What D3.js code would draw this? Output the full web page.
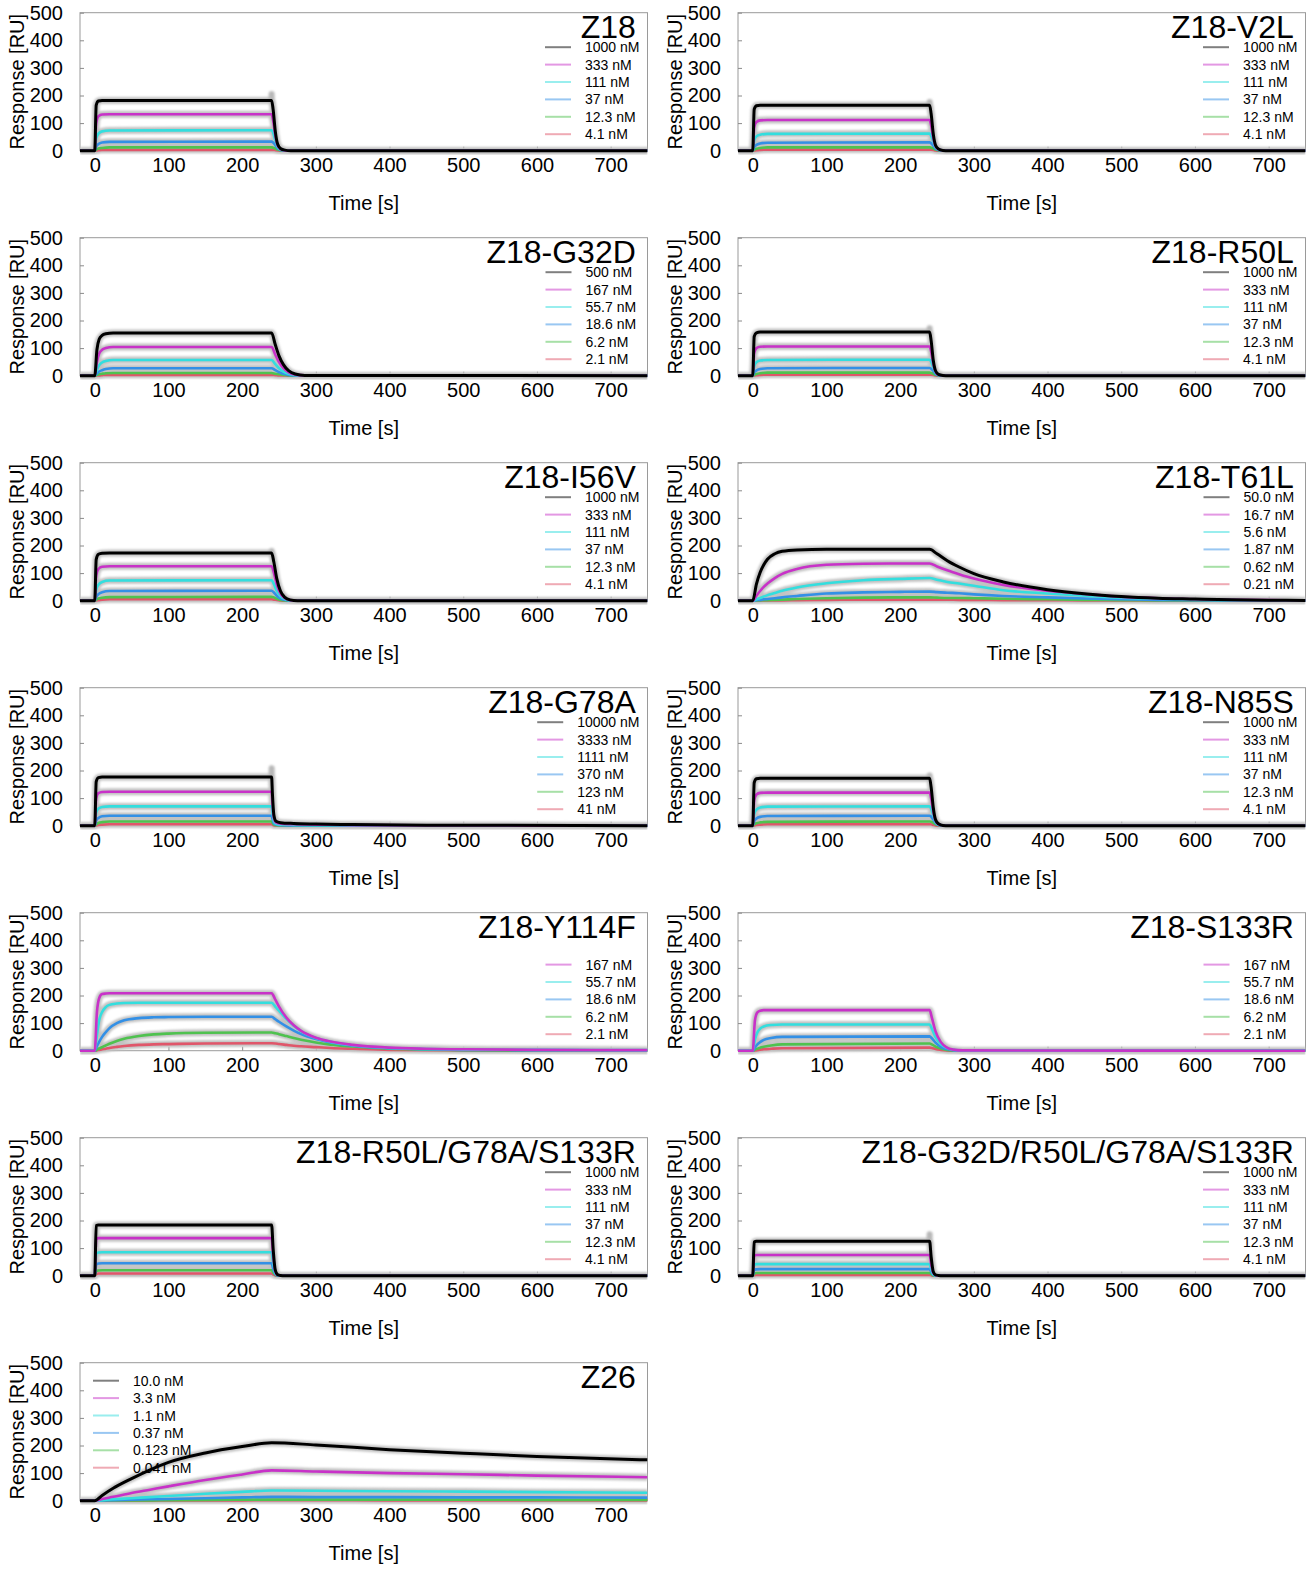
<!DOCTYPE html>
<html>
<head>
<meta charset="utf-8">
<script src="https://cdn.jsdelivr.net/npm/d3@7"></script>
<style>
  body { margin: 0; background: #ffffff; }
  svg { display: block; }
  text { font-family: "Liberation Sans", Arial, Helvetica, sans-serif; fill: #000; }
</style>
</head>
<body>
<svg id="chart" width="1312" height="1570"></svg>
<script>
// ---------- axis ticks ----------
const timeTicks = [0, 100, 200, 300, 400, 500, 600, 700];
const responseTicks = [0, 100, 200, 300, 400, 500];
const timeDomain = [-20, 750];
const responseDomain = [0, 500];

// fitted curve colours, highest concentration first
const seriesColors = ["#000000", "#c832c8", "#33dede", "#3390e6", "#4fc24f", "#e0566a"];

// ---------- concentration labels ----------
const concStd = ["1000 nM", "333 nM", "111 nM", "37 nM", "12.3 nM", "4.1 nM"];
const concG32D = ["500 nM", "167 nM", "55.7 nM", "18.6 nM", "6.2 nM", "2.1 nM"];
const concT61L = ["50.0 nM", "16.7 nM", "5.6 nM", "1.87 nM", "0.62 nM", "0.21 nM"];
const concG78A = ["10000 nM", "3333 nM", "1111 nM", "370 nM", "123 nM", "41 nM"];
const concFive = [null, "167 nM", "55.7 nM", "18.6 nM", "6.2 nM", "2.1 nM"];
const concZ26 = ["10.0 nM", "3.3 nM", "1.1 nM", "0.37 nM", "0.123 nM", "0.041 nM"];

// ---------- sampled sensorgrams: times [s] and responses [RU] ----------
const timesFast = [-20, 0, 2, 5, 10, 20, 240, 242, 245, 248, 252, 258, 266, 750];

const z18Resp = [
  [0, 0, 165, 180, 182, 182, 182, 150, 70, 25, 8, 2, 0, 0],
  [0, 0, 100, 125, 131, 132, 132, 110, 55, 20, 6, 1, 0, 0],
  [0, 0, 45, 62, 70, 73, 74, 65, 38, 15, 5, 1, 0, 0],
  [0, 0, 15, 24, 30, 32, 33, 30, 20, 9, 3, 1, 0, 0],
  [0, 0, 4, 8, 10, 12, 12, 11, 8, 4, 1, 0, 0, 0],
  [0, 0, 1, 2, 3, 3, 3, 3, 2, 1, 0, 0, 0, 0]
];
const v2lResp = [
  [0, 0, 150, 163, 165, 165, 165, 135, 60, 20, 6, 1, 0, 0],
  [0, 0, 85, 104, 110, 111, 111, 92, 45, 16, 5, 1, 0, 0],
  [0, 0, 38, 52, 58, 61, 62, 54, 32, 12, 4, 1, 0, 0],
  [0, 0, 13, 21, 26, 29, 30, 27, 18, 8, 3, 1, 0, 0],
  [0, 0, 4, 7, 10, 12, 12, 11, 8, 4, 1, 0, 0, 0],
  [0, 0, 1, 2, 3, 4, 4, 4, 3, 1, 0, 0, 0, 0]
];
const r50lResp = [
  [0, 0, 142, 155, 158, 158, 158, 128, 55, 18, 5, 1, 0, 0],
  [0, 0, 82, 100, 105, 106, 106, 88, 42, 15, 4, 1, 0, 0],
  [0, 0, 35, 49, 55, 57, 58, 51, 30, 12, 4, 1, 0, 0],
  [0, 0, 12, 19, 24, 27, 28, 25, 17, 7, 2, 0, 0, 0],
  [0, 0, 3, 6, 9, 11, 11, 10, 7, 3, 1, 0, 0, 0],
  [0, 0, 1, 2, 3, 4, 4, 4, 3, 1, 0, 0, 0, 0]
];
const n85sResp = [
  [0, 0, 156, 170, 172, 172, 172, 140, 65, 22, 7, 1, 0, 0],
  [0, 0, 92, 113, 119, 120, 120, 100, 50, 18, 5, 1, 0, 0],
  [0, 0, 42, 58, 66, 69, 70, 62, 36, 14, 4, 1, 0, 0],
  [0, 0, 16, 26, 32, 35, 36, 33, 22, 10, 3, 1, 0, 0],
  [0, 0, 5, 9, 12, 14, 15, 14, 10, 5, 2, 0, 0, 0],
  [0, 0, 1, 3, 4, 5, 5, 5, 3, 1, 0, 0, 0, 0]
];
const tripleResp = [
  [0, 0, 182, 184, 184, 184, 184, 100, 20, 4, 1, 0, 0, 0],
  [0, 0, 132, 136, 136, 136, 136, 75, 15, 3, 1, 0, 0, 0],
  [0, 0, 80, 84, 85, 85, 85, 48, 10, 2, 0, 0, 0, 0],
  [0, 0, 40, 44, 45, 45, 45, 26, 6, 1, 0, 0, 0, 0],
  [0, 0, 17, 19, 20, 20, 20, 12, 3, 1, 0, 0, 0, 0],
  [0, 0, 6, 8, 8, 8, 8, 5, 1, 0, 0, 0, 0, 0]
];
const quadResp = [
  [0, 0, 122, 125, 125, 125, 125, 70, 14, 3, 1, 0, 0, 0],
  [0, 0, 72, 75, 75, 75, 75, 42, 9, 2, 0, 0, 0, 0],
  [0, 0, 39, 42, 42, 42, 42, 24, 5, 1, 0, 0, 0, 0],
  [0, 0, 21, 23, 24, 24, 24, 14, 3, 1, 0, 0, 0, 0],
  [0, 0, 8, 10, 10, 10, 10, 6, 1, 0, 0, 0, 0, 0],
  [0, 0, 2, 3, 3, 3, 3, 2, 0, 0, 0, 0, 0, 0]
];

const timesI56V = [-20, 0, 2, 5, 10, 20, 240, 243, 247, 252, 258, 265, 275, 750];
const i56vResp = [
  [0, 0, 150, 168, 172, 173, 173, 140, 80, 35, 12, 3, 0, 0],
  [0, 0, 90, 115, 123, 125, 125, 102, 58, 26, 9, 2, 0, 0],
  [0, 0, 40, 58, 68, 73, 74, 61, 35, 16, 6, 1, 0, 0],
  [0, 0, 14, 24, 31, 35, 36, 30, 18, 8, 3, 1, 0, 0],
  [0, 0, 4, 8, 11, 13, 14, 12, 7, 3, 1, 0, 0, 0],
  [0, 0, 1, 2, 4, 5, 5, 4, 3, 1, 0, 0, 0, 0]
];

const timesG32D = [-20, 0, 3, 6, 10, 15, 25, 240, 245, 250, 256, 263, 272, 285, 750];
const g32dResp = [
  [0, 0, 95, 132, 146, 152, 155, 155, 112, 72, 40, 18, 6, 1, 0],
  [0, 0, 50, 80, 94, 100, 104, 104, 76, 49, 27, 12, 4, 1, 0],
  [0, 0, 22, 38, 48, 53, 57, 57, 42, 27, 15, 7, 2, 0, 0],
  [0, 0, 8, 15, 20, 24, 27, 27, 20, 13, 7, 3, 1, 0, 0],
  [0, 0, 3, 5, 7, 9, 10, 10, 7, 5, 3, 1, 0, 0, 0],
  [0, 0, 1, 1, 2, 3, 3, 3, 2, 1, 1, 0, 0, 0, 0]
];

const timesG78A = [-20, 0, 2, 5, 10, 20, 240, 241, 243, 246, 252, 270, 300, 350, 450, 750];
const g78aResp = [
  [0, 0, 160, 174, 176, 176, 176, 120, 40, 16, 11, 8, 6, 4, 2, 0],
  [0, 0, 100, 118, 122, 123, 123, 85, 28, 11, 7, 5, 4, 2, 1, 0],
  [0, 0, 48, 62, 68, 70, 70, 50, 17, 7, 4, 3, 2, 1, 0, 0],
  [0, 0, 18, 28, 34, 36, 36, 26, 9, 4, 2, 1, 1, 0, 0, 0],
  [0, 0, 5, 10, 13, 15, 15, 11, 4, 2, 1, 0, 0, 0, 0, 0],
  [0, 0, 1, 3, 4, 5, 5, 4, 1, 1, 0, 0, 0, 0, 0, 0]
];

const timesS133R = [-20, 0, 3, 6, 10, 15, 25, 40, 240, 243, 248, 255, 263, 272, 285, 750];
const s133rResp = [
  null,
  [0, 0, 110, 138, 145, 147, 147, 147, 147, 120, 70, 32, 12, 4, 1, 0],
  [0, 0, 40, 65, 80, 88, 93, 95, 95, 80, 49, 24, 10, 3, 1, 0],
  [0, 0, 12, 22, 31, 39, 46, 50, 52, 45, 29, 14, 6, 2, 0, 0],
  [0, 0, 4, 7, 11, 14, 19, 23, 26, 23, 15, 8, 3, 1, 0, 0],
  [0, 0, 1, 2, 4, 5, 7, 9, 11, 10, 6, 3, 1, 0, 0, 0]
];

const timesT61L = [-20, 0, 5, 10, 15, 20, 30, 40, 60, 100, 150, 200, 240, 250, 264, 280, 300, 340, 400, 450, 500, 550, 600, 650, 700, 750];
const t61lResp = [
  [0, 0, 60, 102, 130, 150, 170, 179, 184, 186, 186, 186, 186, 170, 145, 122, 98, 68, 40, 25, 15, 9, 6, 3, 2, 1],
  [0, 0, 18, 35, 50, 62, 82, 97, 115, 130, 134, 135, 135, 124, 110, 96, 80, 57, 36, 24, 14, 9, 5, 3, 2, 1],
  [0, 0, 5, 10, 15, 20, 28, 36, 48, 63, 74, 79, 82, 76, 68, 62, 54, 38, 26, 18, 11, 7, 4, 2, 1, 1],
  [0, 0, 2, 3, 5, 6, 9, 12, 17, 26, 30, 32, 33, 31, 29, 27, 23, 17, 12, 8, 5, 3, 2, 1, 1, 0],
  [0, 0, 1, 1, 2, 2, 3, 4, 6, 9, 11, 12, 12, 11, 10, 10, 9, 7, 5, 3, 2, 1, 1, 0, 0, 0],
  [0, 0, 0, 0, 1, 1, 1, 1, 2, 3, 4, 4, 4, 4, 4, 3, 3, 2, 2, 1, 1, 0, 0, 0, 0, 0]
];

const timesY114F = [-20, 0, 3, 6, 10, 15, 20, 30, 40, 60, 80, 100, 150, 240, 245, 250, 260, 270, 280, 300, 320, 350, 400, 450, 500, 600, 750];
const y114fResp = [
  null,
  [0, 0, 140, 190, 205, 207, 208, 208, 208, 208, 208, 208, 208, 208, 185, 160, 120, 92, 72, 47, 33, 21, 11, 7, 5, 3, 2],
  [0, 0, 55, 110, 140, 158, 166, 171, 173, 174, 174, 174, 174, 174, 160, 145, 115, 90, 70, 46, 32, 20, 10, 6, 4, 3, 2],
  [0, 0, 16, 32, 50, 67, 82, 100, 110, 118, 121, 122, 123, 123, 114, 105, 88, 73, 60, 42, 30, 18, 9, 5, 3, 2, 1],
  [0, 0, 4, 8, 13, 19, 25, 35, 43, 53, 59, 62, 65, 66, 63, 60, 53, 46, 40, 30, 22, 15, 7, 4, 2, 1, 0],
  [0, 0, 1, 3, 5, 7, 10, 14, 17, 21, 23, 24, 26, 27, 26, 24, 21, 18, 16, 13, 10, 7, 3, 2, 1, 0, 0]
];

const timesZ26 = [-20, 0, 10, 25, 50, 75, 100, 150, 200, 240, 300, 400, 500, 600, 750];
const z26Resp = [
  [0, 0, 19, 45, 80, 112, 139, 173, 196, 210, 202, 185, 172, 160, 148],
  [0, 0, 6, 14, 28, 40, 52, 75, 95, 110, 106, 100, 96, 91, 85],
  [0, 0, 2, 5, 9, 13, 17, 25, 32, 37, 36, 34, 33, 31, 29],
  [0, 0, 1, 2, 4, 5, 6, 9, 12, 14, 13, 13, 12, 12, 11],
  [0, 0, 0, 1, 1, 1, 2, 3, 4, 4, 4, 4, 4, 3, 3],
  [0, 0, 0, 0, 0, 0, 1, 1, 1, 2, 2, 1, 1, 1, 1]
];

// ---------- panels (reading order) ----------
const panelNames = ["Z18", "Z18-V2L", "Z18-G32D", "Z18-R50L", "Z18-I56V", "Z18-T61L",
  "Z18-G78A", "Z18-N85S", "Z18-Y114F", "Z18-S133R", "Z18-R50L/G78A/S133R",
  "Z18-G32D/R50L/G78A/S133R", "Z26"];
const panelTimes = [timesFast, timesFast, timesG32D, timesFast, timesI56V, timesT61L,
  timesG78A, timesFast, timesY114F, timesS133R, timesFast, timesFast, timesZ26];
const panelResponses = [z18Resp, v2lResp, g32dResp, r50lResp, i56vResp, t61lResp,
  g78aResp, n85sResp, y114fResp, s133rResp, tripleResp, quadResp, z26Resp];
const panelConcs = [concStd, concStd, concG32D, concStd, concStd, concT61L,
  concG78A, concStd, concFive, concFive, concStd, concStd, concZ26];
// raw-data injection spike at the end of association (RU), null where absent
const injectionSpikes = [205, 176, null, 172, 180, null, 208, 182, null, null, null, 150, null];

// ---------- layout ----------
const colLeft = [80, 738];
const plotW = 567.5;
const rowTop0 = 12.7;
const rowStep = 225;
const plotH = 138;

const svg = d3.select("#chart");
const defs = svg.append("defs");
defs.append("filter").attr("id", "soft")
  .attr("x", "-5%").attr("y", "-20%").attr("width", "110%").attr("height", "140%")
  .append("feGaussianBlur").attr("stdDeviation", 0.9);

// text measuring helper for legend placement
const measurer = svg.append("text").attr("font-size", 14).attr("opacity", 0);
function textWidth(s) { measurer.text(s); return measurer.node().getComputedTextLength(); }

panelNames.forEach((name, p) => {
  const col = p % 2, row = Math.floor(p / 2);
  const left = colLeft[col], right = left + plotW;
  const top = rowTop0 + row * rowStep, bottom = top + plotH;

  const x = d3.scaleLinear().domain(timeDomain).range([left, right]);
  const y = d3.scaleLinear().domain(responseDomain).range([bottom, top]);

  const g = svg.append("g");
  const clipId = "clip" + p;
  defs.append("clipPath").attr("id", clipId)
    .append("rect").attr("x", left).attr("y", top - 2).attr("width", plotW).attr("height", plotH + 6);

  // frame
  g.append("rect").attr("x", left).attr("y", top).attr("width", plotW).attr("height", plotH)
    .attr("fill", "none").attr("stroke", "#9a9a9a").attr("stroke-width", 1);

  // axes
  const yAxis = d3.axisLeft(y).tickValues(responseTicks).tickSize(-4).tickPadding(17);
  const ya = g.append("g").attr("transform", `translate(${left},0)`).call(yAxis);
  const xAxis = d3.axisBottom(x).tickValues(timeTicks).tickSize(-4).tickPadding(7);
  const xa = g.append("g").attr("transform", `translate(0,${bottom})`).call(xAxis);
  [ya, xa].forEach(a => {
    a.select(".domain").remove();
    a.selectAll(".tick line").attr("stroke", "#8a8a8a");
    a.selectAll(".tick text").attr("font-size", 20)
      .attr("font-family", '"Liberation Sans", Arial, sans-serif').attr("fill", "#000");
  });

  // axis titles
  g.append("text").attr("transform", `translate(${left - 56.5},${(top + bottom) / 2}) rotate(-90)`)
    .attr("text-anchor", "middle").attr("font-size", 20).text("Response [RU]");
  g.append("text").attr("x", (left + right) / 2).attr("y", bottom + 59)
    .attr("text-anchor", "middle").attr("font-size", 20).text("Time [s]");

  const times = panelTimes[p];
  const resp = panelResponses[p];
  const line = d3.line().x(d => x(d[0])).y(d => y(d[1])).curve(d3.curveMonotoneX);
  const seriesPts = resp.map(vals => vals ? vals.map((v, i) => [times[i], v]) : null);

  const plot = g.append("g").attr("clip-path", `url(#${clipId})`);
  const rawLayer = plot.append("g").attr("filter", "url(#soft)");

  // measured traces (grey bands)
  seriesPts.forEach(pts => {
    if (!pts) return;
    rawLayer.append("path").attr("d", line(pts)).attr("fill", "none")
      .attr("stroke", "#c2c2c2").attr("stroke-width", 7).attr("stroke-linejoin", "round");
  });
  if (injectionSpikes[p] != null) {
    const top0 = resp[0][times.indexOf(240)];
    rawLayer.append("line").attr("x1", x(240)).attr("x2", x(240))
      .attr("y1", y(top0)).attr("y2", y(injectionSpikes[p]))
      .attr("stroke", "#b8b8b8").attr("stroke-width", 6).attr("stroke-linecap", "round");
  }

  // fitted curves, lowest concentration first so the top one stays on top
  for (let s = seriesPts.length - 1; s >= 0; s--) {
    const pts = seriesPts[s];
    if (!pts) continue;
    plot.append("path").attr("d", line(pts)).attr("fill", "none")
      .attr("stroke", seriesColors[s]).attr("stroke-width", s === 0 ? 3 : 2.6)
      .attr("stroke-linejoin", "round");
  }

  // title
  g.append("text").attr("x", right - 11.7).attr("y", top + 25.5)
    .attr("text-anchor", "end").attr("font-size", 32).text(name);

  // legend
  const labels = panelConcs[p];
  const legendLeft = name === "Z26";
  let textX, y0;
  if (legendLeft) {
    textX = left + 53; y0 = top + 18;
  } else {
    const maxW = d3.max(labels.filter(d => d), textWidth);
    textX = Math.min(right - 62, right - 8 - maxW);
    y0 = top + 34.5;
  }
  labels.forEach((lab, i) => {
    if (!lab) return;
    const yy = y0 + i * 17.4;
    g.append("line").attr("x1", textX - 40).attr("x2", textX - 14).attr("y1", yy).attr("y2", yy)
      .attr("stroke", seriesColors[i]).attr("stroke-opacity", 0.5).attr("stroke-width", 2);
    g.append("text").attr("x", textX).attr("y", yy + 5).attr("font-size", 14)
      .attr("fill", "#111").text(lab);
  });
});
measurer.remove();
</script>
</body>
</html>
